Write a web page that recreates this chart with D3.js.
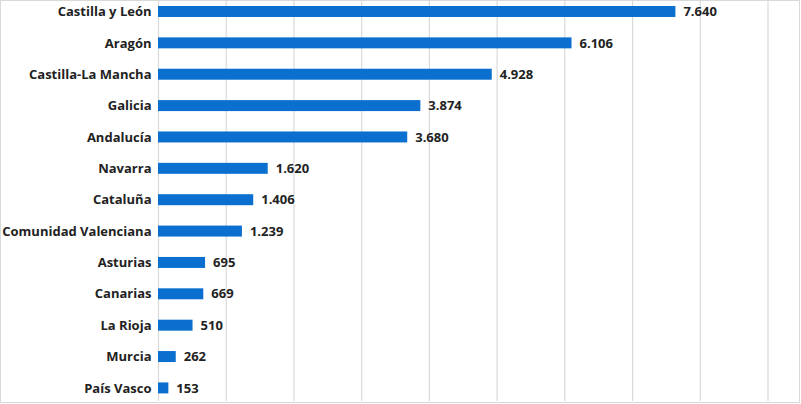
<!DOCTYPE html>
<html><head><meta charset="utf-8">
<script src="https://cdn.jsdelivr.net/npm/d3@7"></script>
<style>html,body{margin:0;padding:0;background:#fff;}svg{display:block;}</style>
</head><body>
<script>
const categories = ["Castilla y León","Aragón","Castilla-La Mancha","Galicia","Andalucía","Navarra","Cataluña","Comunidad Valenciana","Asturias","Canarias","La Rioja","Murcia","País Vasco"];
const values = [7640,6106,4928,3874,3680,1620,1406,1239,695,669,510,262,153];
const tickValues = [0,1000,2000,3000,4000,5000,6000,7000,8000,9000];

const W = 801, H = 404;
const FONT = "'Open Sans', sans-serif";
const svg = d3.select("body").append("svg").attr("width", W).attr("height", H);
svg.append("rect").attr("x",0.5).attr("y",0.5).attr("width",W-2).attr("height",H-2)
  .attr("fill","#fff").attr("stroke","#d9d9d9");

const x = d3.scaleLinear().domain([0,9000]).range([158,767.5]);
const y = d3.scaleBand().domain(categories).range([-4.2,403.6]).paddingInner(0.65).paddingOuter(0.325);

const fmt = v => d3.format(",")(v).replace(/,/g,".");

// gridlines
svg.append("g")
  .call(d3.axisBottom(x).tickValues(tickValues).tickSize(401).tickFormat(""))
  .call(g=>g.select(".domain").remove())
  .call(g=>g.selectAll("line").attr("stroke","#d9d9d9").attr("stroke-width",1.2));

svg.append("g").selectAll("rect").data(values).join("rect")
  .attr("x", x(0)).attr("y",(d,i)=>y(categories[i]))
  .attr("width", d=>x(d)-x(0)).attr("height", y.bandwidth())
  .attr("fill","#0A6FCF");

svg.append("g").selectAll("text").data(values).join("text")
  .attr("x", d=>x(d)+8).attr("y",(d,i)=>y(categories[i])+y.bandwidth()/2)
  .attr("dy","0.36em")
  .attr("font-family",FONT).attr("font-weight","bold").attr("font-size",13)
  .attr("fill","#222").text(fmt);

svg.append("g").selectAll("text").data(categories).join("text")
  .attr("x", 151.5).attr("y", d=>y(d)+y.bandwidth()/2)
  .attr("dy","0.36em").attr("text-anchor","end")
  .attr("font-family",FONT).attr("font-weight","bold").attr("font-size",13)
  .attr("fill","#222").text(d=>d);
</script>
</body></html>
